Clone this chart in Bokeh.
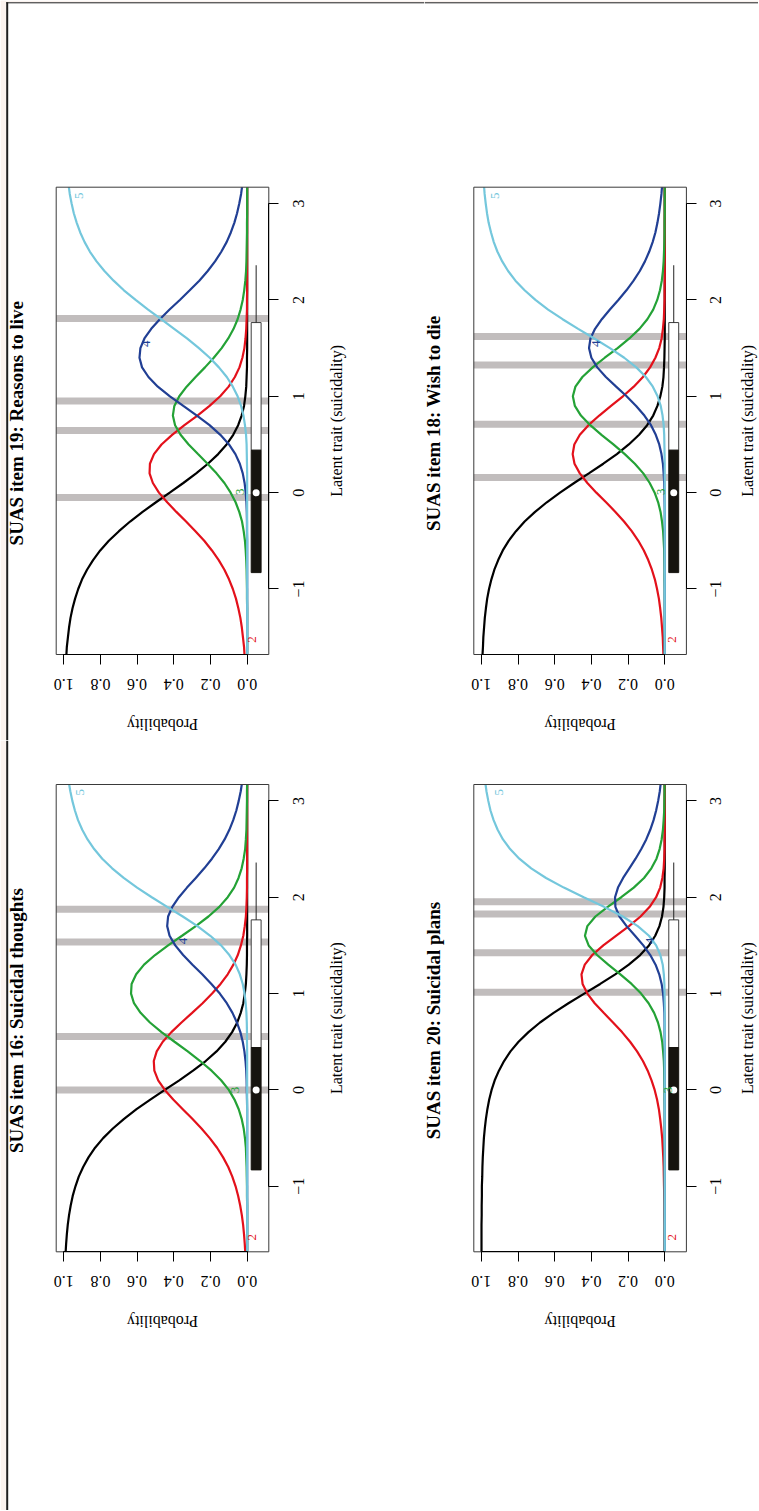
import math
from bokeh.plotting import figure
from bokeh.layouts import row, column
from bokeh.models import Range1d, FixedTicker
from bokeh.core.properties import value
from bokeh.embed import file_html
from bokeh.resources import INLINE

# ---------------- data ----------------
theta = [-1.8, -1.7, -1.6, -1.5, -1.4, -1.3, -1.2, -1.1, -1.0, -0.9,
         -0.8, -0.7, -0.6, -0.5, -0.4, -0.3, -0.2, -0.1, 0.0, 0.1,
         0.2, 0.3, 0.4, 0.5, 0.6, 0.7, 0.8, 0.9, 1.0, 1.1,
         1.2, 1.3, 1.4, 1.5, 1.6, 1.7, 1.8, 1.9, 2.0, 2.1,
         2.2, 2.3, 2.4, 2.5, 2.6, 2.7, 2.8, 2.9, 3.0, 3.1,
         3.2]

# SUAS item 19: Reasons to live  (category probabilities 1..5)
i19_c1 = [.990, .986, .983, .977, .971, .963, .952, .938, .921, .900,
          .873, .840, .801, .754, .699, .638, .570, .497, .422, .348,
          .278, .214, .158, .112, .076, .049, .030, .017, .010, .005,
          .003, .001, .001, 0, 0, 0, 0, 0, 0, 0,
          0, 0, 0, 0, 0, 0, 0, 0, 0, 0,
          0]
i19_c2 = [.010, .014, .017, .023, .029, .037, .048, .061, .078, .099,
          .124, .155, .192, .234, .282, .333, .386, .436, .481, .514,
          .532, .530, .508, .467, .409, .342, .271, .205, .147, .101,
          .067, .042, .026, .015, .009, .005, .003, .001, .001, 0,
          0, 0, 0, 0, 0, 0, 0, 0, 0, 0,
          0]
i19_c3 = [0, 0, 0, 0, 0, 0, 0, .001, .001, .002,
          .003, .005, .008, .012, .019, .028, .043, .063, .090, .124,
          .167, .216, .268, .319, .363, .393, .405, .397, .370, .330,
          .281, .230, .182, .139, .103, .074, .052, .036, .024, .016,
          .010, .006, .004, .003, .002, .001, .001, 0, 0, 0,
          0]
i19_c4 = [0, 0, 0, 0, 0, 0, 0, 0, 0, 0,
          0, 0, 0, 0, .001, .001, .002, .004, .008, .014,
          .024, .040, .064, .099, .146, .205, .274, .348, .421, .487,
          .538, .573, .587, .582, .560, .523, .476, .423, .367, .313,
          .261, .215, .175, .141, .112, .089, .070, .055, .043, .033,
          .026]
i19_c5 = [0, 0, 0, 0, 0, 0, 0, 0, 0, 0,
          0, 0, 0, 0, 0, 0, 0, 0, 0, 0,
          0, .001, .002, .003, .006, .012, .020, .033, .052, .078,
          .111, .154, .204, .263, .328, .398, .469, .540, .608, .672,
          .728, .778, .821, .857, .886, .910, .929, .945, .957, .967,
          .974]
i19_steps = [-0.05, 0.646, 0.95, 1.806]
i19_lab_theta = [-1.524, 0.01, 1.544, 3.08]
i19_lab_prob = [-0.027, 0.04, 0.551, 0.915]

# SUAS item 16: Suicidal thoughts
i16_c1 = [.992, .990, .987, .983, .978, .971, .962, .951, .936, .918,
          .894, .865, .829, .785, .732, .671, .603, .528, .449, .370,
          .295, .226, .167, .119, .082, .054, .035, .021, .013, .007,
          .004, .002, .001, .001, 0, 0, 0, 0, 0, 0,
          0, 0, 0, 0, 0, 0, 0, 0, 0, 0,
          0]
i16_c2 = [.008, .010, .013, .017, .022, .029, .038, .049, .063, .081,
          .103, .131, .164, .204, .249, .299, .351, .403, .449, .485,
          .506, .509, .493, .460, .413, .358, .300, .243, .191, .145,
          .106, .075, .051, .034, .021, .013, .007, .004, .002, .001,
          .001, 0, 0, 0, 0, 0, 0, 0, 0, 0,
          0]
i16_c3 = [0, 0, 0, 0, 0, 0, 0, .001, .001, .002,
          .003, .005, .007, .012, .019, .030, .046, .069, .100, .142,
          .194, .256, .324, .396, .467, .530, .581, .617, .633, .630,
          .605, .562, .502, .431, .355, .280, .211, .152, .106, .071,
          .047, .030, .019, .011, .007, .004, .003, .002, .001, .001,
          0]
i16_c4 = [0, 0, 0, 0, 0, 0, 0, 0, 0, 0,
          0, 0, 0, 0, 0, 0, 0, .001, .002, .003,
          .005, .009, .015, .024, .037, .056, .080, .111, .149, .195,
          .245, .298, .349, .392, .423, .436, .431, .408, .372, .328,
          .280, .234, .192, .155, .123, .097, .076, .059, .046, .035,
          .027]
i16_c5 = [0, 0, 0, 0, 0, 0, 0, 0, 0, 0,
          0, 0, 0, 0, 0, 0, 0, 0, 0, 0,
          0, 0, 0, .001, .001, .002, .004, .008, .014, .024,
          .040, .063, .097, .142, .201, .271, .351, .436, .520, .600,
          .673, .736, .790, .834, .870, .899, .922, .939, .953, .964,
          .973]
i16_steps = [0.0, 0.555, 1.535, 1.876]
i16_lab_theta = [-1.53, 0.0, 1.545, 3.09]
i16_lab_prob = [-0.027, 0.064, 0.349, 0.909]

# SUAS item 18: Wish to die
i18_c1 = [.995, .994, .991, .989, .985, .981, .975, .968, .958, .945,
          .929, .908, .883, .851, .811, .764, .707, .643, .571, .494,
          .414, .335, .261, .196, .140, .096, .063, .040, .024, .013,
          .007, .004, .002, .001, 0, 0, 0, 0, 0, 0,
          0, 0, 0, 0, 0, 0, 0, 0, 0, 0,
          0]
i18_c2 = [.005, .007, .009, .011, .015, .019, .025, .032, .042, .054,
          .070, .090, .114, .144, .180, .222, .269, .320, .373, .422,
          .463, .492, .502, .493, .463, .416, .357, .293, .228, .169,
          .119, .080, .051, .030, .017, .010, .005, .003, .001, .001,
          0, 0, 0, 0, 0, 0, 0, 0, 0, 0,
          0]
i18_c3 = [0, 0, 0, 0, 0, 0, 0, 0, 0, .001,
          .001, .002, .003, .006, .009, .015, .023, .036, .055, .082,
          .117, .163, .218, .280, .345, .406, .457, .490, .501, .487,
          .449, .393, .327, .257, .193, .138, .095, .063, .041, .026,
          .016, .010, .006, .004, .002, .001, .001, 0, 0, 0,
          0]
i18_c4 = [0, 0, 0, 0, 0, 0, 0, 0, 0, 0,
          0, 0, 0, 0, 0, 0, 0, .001, .002, .003,
          .006, .010, .018, .030, .049, .075, .111, .156, .208, .265,
          .321, .368, .400, .413, .405, .380, .343, .299, .253, .209,
          .170, .136, .108, .085, .066, .051, .040, .031, .024, .018,
          .014]
i18_c5 = [0, 0, 0, 0, 0, 0, 0, 0, 0, 0,
          0, 0, 0, 0, 0, 0, 0, 0, 0, 0,
          0, 0, .001, .002, .003, .006, .012, .022, .039, .065,
          .103, .155, .221, .299, .384, .472, .557, .636, .705, .764,
          .814, .854, .886, .912, .932, .947, .960, .969, .976, .982,
          .986]
i18_steps = [0.158, 0.709, 1.325, 1.62]
i18_lab_theta = [-1.524, 0.01, 1.544, 3.08]
i18_lab_prob = [-0.04, 0.018, 0.375, 0.927]

# SUAS item 20: Suicidal plans
i20_c1 = [1.000, .999, .999, .999, .999, .998, .998, .997, .997, .995,
          .994, .992, .989, .986, .981, .975, .967, .957, .944, .927,
          .904, .876, .841, .797, .743, .680, .606, .525, .439, .352,
          .270, .196, .134, .086, .052, .029, .015, .007, .003, .001,
          .001, 0, 0, 0, 0, 0, 0, 0, 0, 0,
          0]
i20_c2 = [0, .001, .001, .001, .001, .002, .002, .003, .004, .005,
          .006, .008, .011, .014, .019, .025, .032, .042, .055, .072,
          .093, .119, .151, .189, .233, .282, .333, .382, .422, .448,
          .454, .436, .395, .335, .266, .195, .132, .082, .047, .025,
          .013, .006, .003, .001, .001, 0, 0, 0, 0, 0,
          0]
i20_c3 = [0, 0, 0, 0, 0, 0, 0, 0, 0, 0,
          0, 0, 0, 0, 0, 0, 0, .001, .001, .002,
          .003, .005, .009, .014, .023, .037, .058, .088, .129, .181,
          .242, .308, .369, .415, .435, .422, .378, .311, .237, .169,
          .113, .073, .045, .028, .017, .010, .006, .003, .002, .001,
          .001]
i20_c4 = [0, 0, 0, 0, 0, 0, 0, 0, 0, 0,
          0, 0, 0, 0, 0, 0, 0, 0, 0, 0,
          0, 0, 0, 0, .001, .001, .002, .005, .009, .017,
          .030, .050, .079, .117, .162, .208, .247, .269, .271, .255,
          .227, .193, .159, .128, .101, .079, .061, .047, .036, .027,
          .021]
i20_c5 = [0, 0, 0, 0, 0, 0, 0, 0, 0, 0,
          0, 0, 0, 0, 0, 0, 0, 0, 0, 0,
          0, 0, 0, 0, 0, 0, 0, 0, .001, .002,
          .005, .011, .024, .047, .086, .147, .229, .331, .442, .550,
          .647, .728, .793, .843, .882, .911, .933, .950, .962, .972,
          .979]
i20_steps = [1.014, 1.424, 1.826, 1.952]
i20_lab_theta = [-1.53, 0.0, 1.545, 3.09]
i20_lab_prob = [-0.04, -0.018, 0.082, 0.905]

curve_labels = ["2", "3", "4", "5"]

# sample distribution of the latent trait (bar at the edge of each panel)
trait_min = -0.83
trait_q = 0.44
trait_box_top = 1.765
trait_whisker_top = 2.36
trait_median = 0.0

prob_ticks = [0.0, 0.2, 0.4, 0.6, 0.8, 1.0]
prob_tick_labels = ["0.0", "0.2", "0.4", "0.6", "0.8", "1.0"]
trait_ticks = [-1, 0, 1, 2, 3]
trait_tick_labels = ["\u22121", "0", "1", "2", "3"]

# ---------------- styling / geometry ----------------
SERIF = "Liberation Serif"
CAT_COLORS = ["#000000", "#e3111b", "#24a236", "#213f94", "#74c7dc"]
STEP_COLOR = "#c1bdbd"
PAGE_LINE = "#1e1e1e"
PAGE_TINT = "#fbf3ef"
BOX_P = -0.049
BOX_W = 0.054
X_LO, X_HI = 1.041, -0.118      # probability limits of the plot box (reversed: page is turned)
Y_LO, Y_HI = -1.68, 3.17        # latent-trait limits of the plot box
BOX_W_PX, BOX_H_PX = 212.6, 467.3
EDGE_X_PX, EDGE_Y_PX = 6.7, 2.3  # scanned page frame (left and top edges)


def panel(title, curves, steps, lab_theta, lab_prob, fig_w, fig_h, box_left, box_top, ylab_off,
          left_edge=False, top_edge=False):
    ppx = BOX_W_PX / (X_LO - X_HI)
    ppy = BOX_H_PX / (Y_HI - Y_LO)

    def px(v):   # horizontal pixel in this figure -> probability coordinate
        return X_LO - (v - box_left) / ppx

    def py(v):   # vertical pixel in this figure -> latent-trait coordinate
        return Y_HI - (v - box_top) / ppy

    xr = Range1d(px(0), px(fig_w))
    yr = Range1d(py(fig_h), py(0))
    p = figure(frame_width=fig_w, frame_height=fig_h, min_border=0, title=None,
               output_backend="svg", toolbar_location=None,
               x_range=xr, y_range=yr, y_axis_location="right")
    p.background_fill_color = "white"
    p.border_fill_color = "white"
    p.outline_line_color = None
    p.xgrid.visible = False
    p.ygrid.visible = False

    xa = p.xaxis[0]
    xa.fixed_location = Y_LO
    xa.ticker = FixedTicker(ticks=prob_ticks)
    xa.bounds = (0, 1)
    ya = p.yaxis[0]
    ya.fixed_location = X_HI
    ya.ticker = FixedTicker(ticks=trait_ticks)
    ya.bounds = (-1, 3)
    for ax in (xa, ya):
        ax.major_tick_out = 10
        ax.major_tick_in = 0
        ax.minor_tick_line_color = None
        ax.axis_line_color = "black"
        ax.major_tick_line_color = "black"
        ax.major_label_text_color = None
        ax.major_label_text_font_size = "0px"

    # frame of the scanned page
    if left_edge:
        p.quad(left=px(0), right=px(EDGE_X_PX - 1), bottom=py(fig_h), top=py(0),
               fill_color=PAGE_TINT, line_color=None)
    if top_edge:
        p.quad(left=px(0), right=px(fig_w), bottom=py(EDGE_Y_PX - 0.5), top=py(0),
               fill_color=PAGE_TINT, line_color=None)
        p.segment(x0=px(EDGE_X_PX - 1 if left_edge else 0), x1=px(fig_w),
                  y0=py(EDGE_Y_PX), y1=py(EDGE_Y_PX), line_color=PAGE_LINE, line_width=1)
    if left_edge:
        p.segment(x0=px(EDGE_X_PX), x1=px(EDGE_X_PX),
                  y0=py(fig_h), y1=py(EDGE_Y_PX - 0.5 if top_edge else 0),
                  line_color=PAGE_LINE, line_width=2)

    # category boundaries
    p.segment(x0=X_HI, x1=X_LO, y0=steps, y1=steps, line_width=7, line_color=STEP_COLOR)

    # category response curves
    for c, col in zip(curves, CAT_COLORS):
        p.line(x=c, y=theta, line_color=col, line_width=2.2)

    # keep the curves inside the plot box
    p.quad(left=X_LO, right=X_HI, bottom=Y_LO - 0.3, top=Y_LO,
           fill_color="white", line_color=None)
    p.quad(left=X_LO, right=X_HI, bottom=Y_HI, top=Y_HI + 0.3,
           fill_color="white", line_color=None)

    # distribution bar
    p.vbar(x=[BOX_P], width=BOX_W, bottom=[trait_q], top=[trait_box_top],
           fill_color="white", line_color="#3c3c3c", line_width=1)
    p.vbar(x=[BOX_P], width=BOX_W, bottom=[trait_min], top=[trait_q],
           fill_color="#16140f", line_color="#16140f", line_width=1)
    p.segment(x0=[BOX_P], y0=[trait_box_top], x1=[BOX_P], y1=[trait_whisker_top],
              line_color="#222222", line_width=1)
    p.scatter(x=[BOX_P], y=[trait_median], size=7, fill_color="white", line_color=None)

    # plot box
    p.quad(left=X_LO, right=X_HI, bottom=Y_LO, top=Y_HI,
           fill_color=None, line_color="#3a3a3a", line_width=1)

    # curve numbers
    p.text(x=lab_prob, y=lab_theta, text=curve_labels, text_color=CAT_COLORS[1:],
           angle=math.pi / 2, text_font=value(SERIF), text_font_size="13px",
           text_align="center", text_baseline="middle")

    common = dict(text_font=value(SERIF), text_color="black",
                  text_align="center", text_baseline="middle")
    # probability tick labels and axis title (upside down on the turned page)
    p.text(x=prob_ticks, y=Y_LO, y_offset=30, text=prob_tick_labels, angle=math.pi,
           text_font_size="16px", **common)
    p.text(x=[(X_LO + X_HI) / 2], y=Y_LO, y_offset=70, text=["Probability"], angle=math.pi,
           text_font_size="16px", **common)
    # latent trait tick labels and axis title
    p.text(x=X_HI, x_offset=29.5, y=trait_ticks, text=trait_tick_labels, angle=math.pi / 2,
           text_font_size="16px", **common)
    p.text(x=X_HI, x_offset=ylab_off, y=[(Y_LO + Y_HI) / 2], text=["Latent trait (suicidality)"],
           angle=math.pi / 2, text_font_size="16px", **common)
    # panel title
    p.text(x=X_LO, x_offset=-40, y=[(Y_LO + Y_HI) / 2], text=[title], angle=math.pi / 2,
           text_font_size="19px", text_font_style="bold", **common)
    return p


p19 = panel("SUAS item  19: Reasons to live", [i19_c1, i19_c2, i19_c3, i19_c4, i19_c5],
            i19_steps, i19_lab_theta, i19_lab_prob, 424, 740, 55.7, 186.7, 67.5,
            left_edge=True, top_edge=True)
p18 = panel("SUAS item  18: Wish to die", [i18_c1, i18_c2, i18_c3, i18_c4, i18_c5],
            i18_steps, i18_lab_theta, i18_lab_prob, 334, 740, 49.3, 186.7, 61,
            top_edge=True)
p16 = panel("SUAS item  16: Suicidal thoughts", [i16_c1, i16_c2, i16_c3, i16_c4, i16_c5],
            i16_steps, i16_lab_theta, i16_lab_prob, 424, 770, 55.7, 44, 67.5,
            left_edge=True)
p20 = panel("SUAS item  20: Suicidal plans", [i20_c1, i20_c2, i20_c3, i20_c4, i20_c5],
            i20_steps, i20_lab_theta, i20_lab_prob, 334, 770, 49.3, 44, 61)

layout = column(row(p19, p18), row(p16, p20))

open("out.html", "w").write(file_html(layout, INLINE))
